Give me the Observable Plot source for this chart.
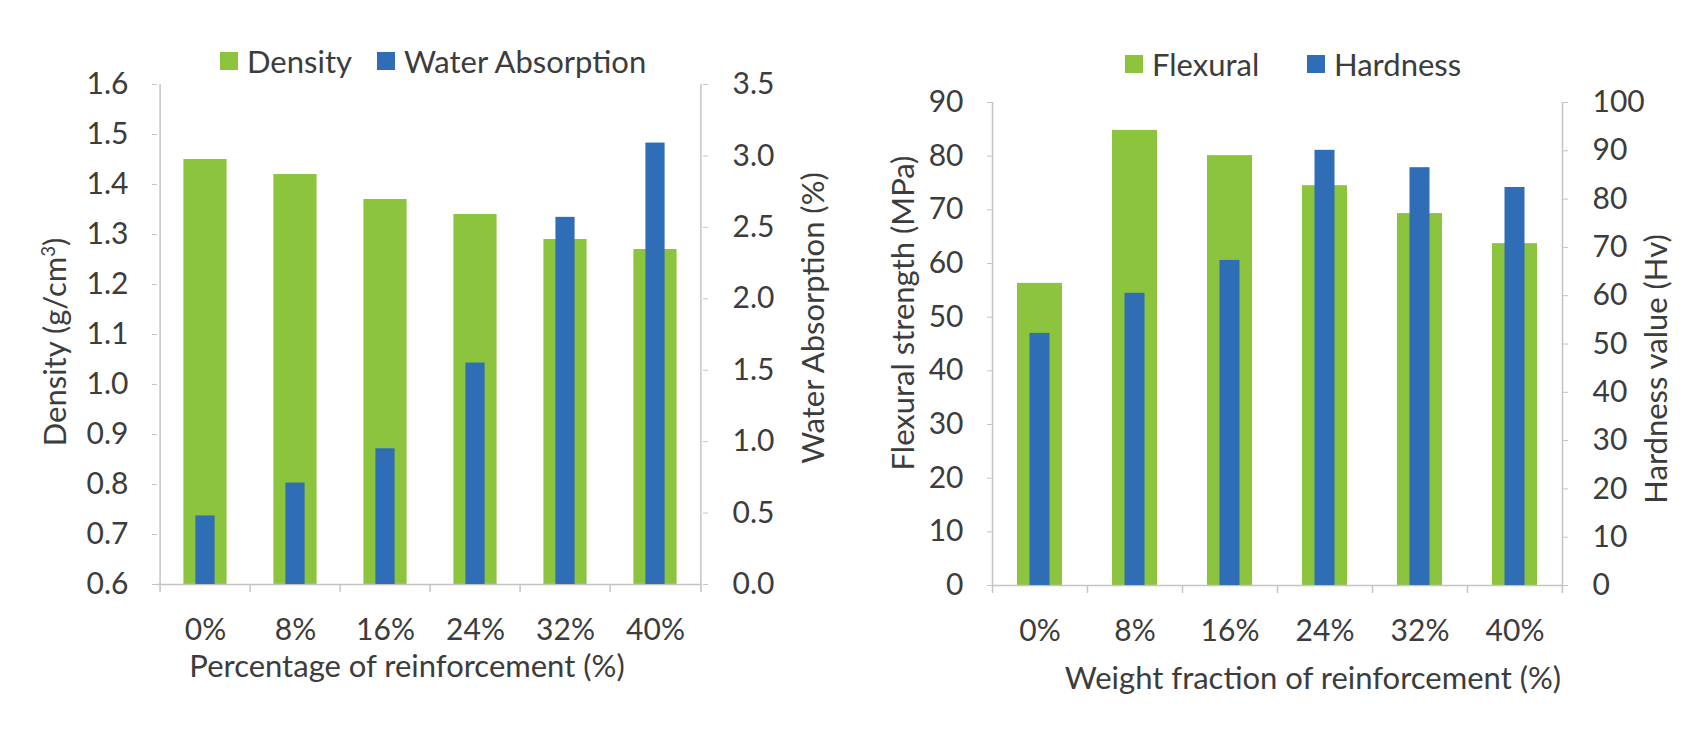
<!DOCTYPE html>
<html>
<head>
<meta charset="utf-8">
<script src="https://cdn.jsdelivr.net/npm/d3@7"></script>
<script src="https://cdn.jsdelivr.net/npm/@observablehq/plot@0.6"></script>
<style>
  html, body { margin: 0; padding: 0; background: #fff; }
  #page { position: relative; width: 1701px; height: 732px; overflow: hidden;
          font-family: Lato, "Open Sans", sans-serif; color: #3c3c3c; }
  .layer { position: absolute; top: 0; }
  .item { position: absolute; display: flex; align-items: center; font-size: 31px;
          white-space: nowrap; transform: translateY(-50%); }
  .sw { display: inline-block; width: 18px; height: 18px; margin-right: 9px; }
  .title { position: absolute; font-size: 31px; white-space: nowrap;
           transform: translate(-50%, -50%); }
  .vt { transform: translate(-50%, -50%) rotate(-90deg); }
</style>
</head>
<body>
<div id="page"></div>
<script>
// ---------- data ----------
const categories = ["0%", "8%", "16%", "24%", "32%", "40%"];

const density = [1.45, 1.42, 1.37, 1.34, 1.29, 1.27];           // g/cm³
const waterAbsorption = [0.48, 0.71, 0.95, 1.55, 2.57, 3.09];   // %

const flexural = [56.3, 84.8, 80.1, 74.5, 69.3, 63.7];          // MPa
const hardness = [52.2, 60.5, 67.3, 90.1, 86.5, 82.4];          // Hv

const densityTicks = [0.6, 0.7, 0.8, 0.9, 1.0, 1.1, 1.2, 1.3, 1.4, 1.5, 1.6];
const waterTicks = [0.0, 0.5, 1.0, 1.5, 2.0, 2.5, 3.0, 3.5];
const flexuralTicks = [0, 10, 20, 30, 40, 50, 60, 70, 80, 90];
const hardnessTicks = [0, 10, 20, 30, 40, 50, 60, 70, 80, 90, 100];

// ---------- style ----------
const GREEN = "#8cc43e";
const BLUE = "#2f6db6";
const AXIS = "#c4c4c4";
const TEXT = "#3c3c3c";
const FONT = "Lato, 'Open Sans', sans-serif";

const page = document.getElementById("page");

function dualBars(cfg) {
  const rows = cfg.cats.map((c, i) => ({cat: c, a: cfg.s1[i], b: cfg.s2[i]}));
  const plotW = cfg.width - cfg.ml - cfg.mr;
  const plotH = cfg.height - cfg.mt - cfg.mb;
  const BW = plotW / cfg.cats.length;
  const gi = (BW - cfg.wide) / 2;
  const bi = (BW - cfg.narrow) / 2;
  const d1 = [cfg.t1[0], cfg.t1[cfg.t1.length - 1]];
  const d2 = [cfg.t2[0], cfg.t2[cfg.t2.length - 1]];
  const tickLen = (d1[1] - d1[0]) * 8 / plotH;
  const common = {
    width: cfg.width, height: cfg.height,
    marginTop: cfg.mt, marginBottom: cfg.mb, marginLeft: cfg.ml, marginRight: cfg.mr,
    style: {background: "transparent", fontFamily: FONT, fontSize: "30px", color: TEXT, overflow: "visible"},
    x: {type: "band", domain: cfg.cats, paddingInner: 0, paddingOuter: 0, axis: null}
  };
  const base = Plot.plot({
    ...common,
    y: {domain: d1, axis: null},
    marks: [
      Plot.barY(rows, {x: "cat", y1: d1[0], y2: "a", fill: GREEN, insetLeft: gi, insetRight: gi}),
      Plot.ruleY([d1[0]], {stroke: AXIS, strokeWidth: 1.5}),
      Plot.ruleX([cfg.cats[0]], {x: d => d, y1: d1[0] - tickLen, y2: d1[1], dx: -BW / 2, stroke: AXIS, strokeWidth: 1.5}),
      Plot.ruleX(cfg.cats.slice(1), {x: d => d, y1: d1[0] - tickLen, y2: d1[0], dx: -BW / 2, stroke: AXIS, strokeWidth: 1.5}),
      Plot.axisY(cfg.t1, {anchor: "left", tickSize: 5, tickPadding: 24, tickFormat: cfg.f1,
                          stroke: AXIS, fill: TEXT, label: null}),
      Plot.axisX({anchor: "bottom", tickSize: 0, tickPadding: 34, fill: TEXT, label: null})
    ]
  });
  const over = Plot.plot({
    ...common,
    y: {domain: d2, axis: null},
    marks: [
      Plot.barY(rows, {x: "cat", y1: d2[0], y2: "b", fill: BLUE, insetLeft: bi, insetRight: bi}),
      Plot.ruleX([cfg.cats[cfg.cats.length - 1]], {x: d => d, y1: d2[0] - (d2[1] - d2[0]) * 8 / plotH, y2: d2[1],
                                                    dx: BW / 2, stroke: AXIS, strokeWidth: 1.5}),
      Plot.axisY(cfg.t2, {anchor: "right", tickSize: 5, tickPadding: 25, tickFormat: cfg.f2,
                          stroke: AXIS, fill: TEXT, label: null})
    ]
  });
  for (const svg of [base, over]) {
    const wrap = document.createElement("div");
    wrap.className = "layer";
    wrap.style.left = cfg.left + "px";
    wrap.appendChild(svg);
    page.appendChild(wrap);
  }
}

dualBars({
  left: 0, width: 850, height: 732, mt: 84, mb: 148, ml: 157, mr: 148,
  cats: categories, s1: density, s2: waterAbsorption,
  t1: densityTicks, t2: waterTicks,
  f1: d => d.toFixed(1), f2: d => d.toFixed(1),
  wide: 44, narrow: 20
});

dualBars({
  left: 850, width: 851, height: 732, mt: 102, mb: 147, ml: 142, mr: 139,
  cats: categories, s1: flexural, s2: hardness,
  t1: flexuralTicks, t2: hardnessTicks,
  f1: d => String(d), f2: d => String(d),
  wide: 45, narrow: 20
});

// ---------- legends & titles ----------
function legendItem(x, y, color, label) {
  const el = document.createElement("div");
  el.className = "item";
  el.style.left = x + "px";
  el.style.top = y + "px";
  el.innerHTML = `<span class="sw" style="background:${color}"></span><span>${label}</span>`;
  page.appendChild(el);
}
legendItem(220, 61, GREEN, "Density");
legendItem(377, 61, BLUE, "Water Absorption");
legendItem(1125, 64, GREEN, "Flexural");
legendItem(1307, 64, BLUE, "Hardness");

function title(x, y, text, vertical) {
  const el = document.createElement("div");
  el.className = "title" + (vertical ? " vt" : "");
  el.style.left = x + "px";
  el.style.top = y + "px";
  el.innerHTML = text;
  page.appendChild(el);
}
title(407, 665, "Percentage of reinforcement (%)");
title(1313, 677, "Weight fraction of reinforcement (%)");
title(54, 342, "Density (g/cm<sup style=\"font-size:60%\">3</sup>)", true);
title(812, 318, "Water Absorption (%)", true);
title(902, 313, "Flexural strength (MPa)", true);
title(1655, 369, "Hardness value (Hv)", true);
</script>
</body>
</html>
